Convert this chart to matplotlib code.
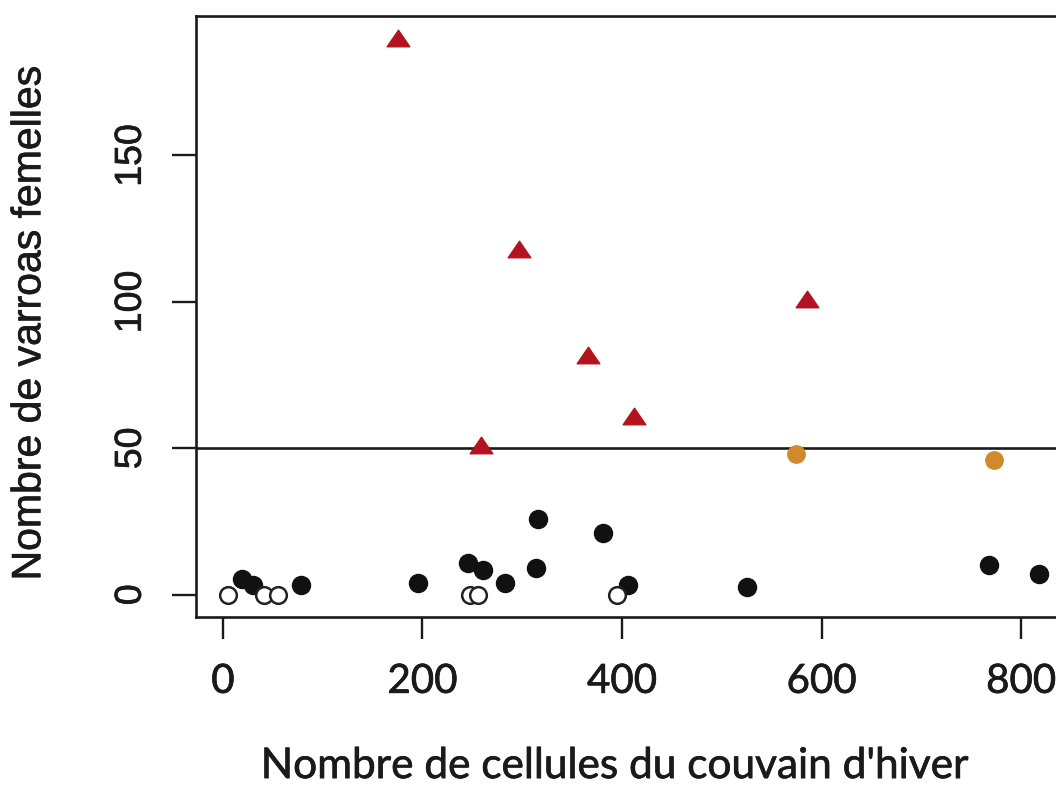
import matplotlib
matplotlib.use("Agg")
import matplotlib.pyplot as plt
import matplotlib.patheffects as pe
from matplotlib.path import Path

# colonies au-dessus du seuil (triangles rouges)
tri_x = [175, 297, 366, 412, 259, 585]
tri_y = [190, 118, 82, 61, 51, 101]

# colonies proches du seuil (orange)
orange_x = [574, 773]
orange_y = [48, 46]

# colonies sous le seuil (points noirs)
black_x = [19, 30, 78, 195, 246, 261, 283, 314, 316, 381, 406, 525, 768, 818]
black_y = [5.5, 3.5, 3.3, 4, 11, 8.3, 4, 9.2, 26, 21, 3.3, 2.6, 10, 7]

# colonies sans varroa (cercles vides)
open_x = [5, 41, 55, 248, 256, 395]
open_y = [0, 0, 0, 0, 0, 0]

threshold = 50
xticks = [0, 200, 400, 600, 800]
yticks = [0, 50, 100, 150]

ink = "#1a1a1a"
thick = [pe.withStroke(linewidth=0.5, foreground=ink)]

# triangle un peu aplati comme sur le scan
tri_marker = Path([(0, 0.73), (-1, -0.73), (1, -0.73), (0, 0.73)],
                  [Path.MOVETO, Path.LINETO, Path.LINETO, Path.CLOSEPOLY])

fig = plt.figure(figsize=(10.56, 7.94), dpi=100)
ax = fig.add_axes([0.1856, 0.2229, 0.84, 0.7569])

ax.axhline(threshold, color=ink, lw=1.9, zorder=1)
ax.plot(black_x, black_y, "o", color="#111111", ms=13, mec="#111111", zorder=2)
ax.plot(open_x, open_y, "o", mfc="white", mec="#222222", mew=1.8, ms=12, zorder=3)
ax.plot(orange_x, orange_y, "o", color="#D08A2B", ms=12.5, zorder=2)
ax.plot(tri_x, tri_y, ls="none", marker=tri_marker, color="#B3131F", ms=16.3, zorder=2)

ax.set_xlim(-27, 862)
ax.set_ylim(-7.6, 197.6)

ax.set_xticks(xticks)
ax.set_yticks(yticks)
ax.set_xticklabels([str(t) for t in xticks], fontsize=29, family="Lato", color=ink,
                   path_effects=thick)
ax.set_yticklabels([str(t) for t in yticks], fontsize=27, family="Liberation Sans",
                   rotation=90, va="center", color=ink, path_effects=thick)
ax.tick_params(axis="x", length=16, width=1.7, pad=17, color=ink)
ax.tick_params(axis="y", length=17, width=1.7, pad=17, color=ink)

for s in ax.spines.values():
    s.set_linewidth(1.9)
    s.set_color(ink)

ax.set_xlabel("Nombre de cellules du couvain d'hiver", fontsize=30.5, family="Lato",
              color=ink, labelpad=34, path_effects=thick)
ax.xaxis.label.set_x(0.472)
ax.set_ylabel("Nombre de varroas femelles", fontsize=29.5, family="Liberation Sans",
              color=ink, path_effects=thick)
ax.yaxis.label.set_va("center")
ax.yaxis.set_label_coords(-0.188, 0.49)

plt.savefig("out.png", dpi=100)
print("saved")
